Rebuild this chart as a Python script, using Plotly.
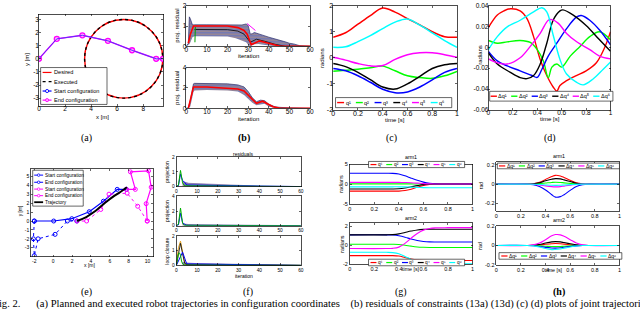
import plotly.graph_objects as go

W, H = 640, 316
SANS = "Liberation Sans, Arial, sans-serif"
SERIF = "Liberation Serif, Times New Roman, serif"
RED, GREEN, BLUE, BLACK, MAGENTA, CYAN = "#ff0000", "#00ff00", "#0000ff", "#000000", "#ff00ff", "#00ffff"
Q_COLORS = [RED, GREEN, BLUE, BLACK, MAGENTA, CYAN]

# ======================= DATA =======================
# (a) planar manipulator
a_circle_cx, a_circle_cy, a_circle_r = 6.5, 0.0, 3.0
a_arm_x = [0, 1.37, 3.33, 5.29, 7.14, 8.99, 9.51]
a_arm_y = [0, 1.52, 1.79, 1.37, 0.65, 0.0, 0.0]

# (b) projection residuals
b1_band_x = [0, 1, 1.5, 2, 3, 4, 10, 20, 24, 27, 29, 30, 31, 32, 33, 35, 37, 40, 42, 45, 48, 50, 52, 55, 60]
b1_band_hi = [0, 0.15, 1.45, 1.35, 1.05, 1.06, 1.06, 1.05, 1.02, 1.05, 1.1, 1.02, 0.6, 0.62, 0.68, 0.6, 0.55, 0.45, 0.4, 0.32, 0.22, 0.15, 0.12, 0.03, 0]
b1_band_lo = [0, 0.05, 0.1, 0.2, 0.45, 0.5, 0.5, 0.48, 0.4, 0.3, 0.2, 0.08, 0.0, 0.05, 0.1, 0.12, 0.08, 0.04, 0.02, 0, 0, 0, 0, 0, 0]
b1_black_x = [4, 10, 20, 25, 28, 31, 34, 38, 43, 48, 60]
b1_black_y = [0.83, 0.83, 0.82, 0.75, 0.6, 0.2, 0.35, 0.25, 0.1, 0.0, 0.0]
b1_red_x = [1, 2, 3.5, 10, 20, 25, 28, 29.5, 30.5, 31.5, 33, 35.5, 38.5, 42, 45, 60]
b1_red_y = [0.15, 0.6, 1.0, 1.0, 1.0, 0.92, 0.78, 0.6, 0.32, 0.08, 0.15, 0.27, 0.19, 0.08, 0.02, 0]
b1_green_x = [4.2, 4.4]
b1_green_y = [0.2, 0.96]
b1_mag_x = [29.5, 31, 33.5]
b1_mag_y = [1.12, 1.0, 0.78]

b2_band_x = [0, 1, 2, 3, 3.5, 4, 10, 20, 25, 28, 30, 32, 34, 36, 38, 40, 43, 45, 50, 55, 60]
b2_band_hi = [0, 0.05, 0.8, 2.2, 2.4, 2.45, 2.45, 2.4, 2.3, 2.1, 1.65, 1.05, 0.65, 0.8, 0.75, 0.4, 0.15, 0.1, 0.05, 0, 0]
b2_band_lo = [0, 0, 0.2, 1.2, 1.6, 1.75, 1.8, 1.75, 1.65, 1.3, 0.9, 0.55, 0.3, 0.4, 0.45, 0.15, 0.05, 0, 0, 0, 0]
b2_red_x = [1, 2, 3.5, 10, 20, 25, 28, 30, 32, 34, 37, 39, 42, 45, 60]
b2_red_y = [0, 0.9, 2.1, 2.1, 2.0, 1.9, 1.7, 1.3, 0.9, 0.5, 0.7, 0.5, 0.15, 0.02, 0]

# (c) joint trajectories q1..q6
c_t = [0, 0.1, 0.2, 0.3, 0.4, 0.5, 0.6, 0.7, 0.8, 0.9, 1.0]
c_q1 = [0.79, 0.96, 1.29, 1.62, 1.91, 1.75, 1.5, 1.26, 1.0, 0.81, 0.79]
c_q2 = [-0.52, -0.48, -0.44, -0.38, -0.32, -0.5, -0.69, -0.76, -0.79, -0.69, -0.52]
c_q3 = [-0.41, -0.5, -0.69, -0.94, -1.21, -1.34, -1.31, -1.12, -0.85, -0.56, -0.41]
c_q4 = [-0.22, -0.34, -0.56, -0.84, -1.12, -1.2, -1.0, -0.71, -0.41, -0.27, -0.22]
c_q5 = [0.02, -0.09, -0.22, -0.31, -0.3, -0.06, 0.12, 0.19, 0.19, 0.12, 0.02]
c_q6 = [0.4, 0.42, 0.62, 0.85, 1.12, 1.37, 1.49, 1.25, 0.96, 0.66, 0.4]

# (d) joint deviations dq1..dq6
d_dq1_t = [0, 0.073, 0.127, 0.18, 0.26, 0.316, 0.37, 0.424, 0.478, 0.53, 0.56, 0.586, 0.64, 0.72, 0.8, 0.884, 0.95, 1.0]
d_dq1 = [0.019, 0.031, 0.035, 0.037, 0.035, 0.0275, 0.0103, -0.0116, -0.027, -0.038, -0.042, -0.0366, -0.032, -0.027, -0.0225, -0.0147, -0.0006, 0.015]
d_dq2_t = [0, 0.073, 0.154, 0.26, 0.343, 0.4, 0.45, 0.49, 0.52, 0.56, 0.6, 0.67, 0.75, 0.83, 0.91, 1.0]
d_dq2 = [0.0066, 0.004, 0.0053, 0.0066, 0.0047, -0.0022, -0.013, -0.029, -0.019, -0.016, -0.019, -0.0084, 0.0009, 0.0103, 0.015, 0.0072]
d_dq3_t = [0, 0.073, 0.154, 0.26, 0.357, 0.4, 0.438, 0.49, 0.56, 0.64, 0.72, 0.76, 0.83, 0.91, 1.0]
d_dq3 = [-0.0038, -0.013, -0.0178, -0.0225, -0.027, -0.0288, -0.021, -0.0084, 0.004, 0.018, 0.029, 0.0306, 0.026, 0.0166, 0.0025]
d_dq4_t = [0, 0.073, 0.18, 0.26, 0.316, 0.37, 0.424, 0.478, 0.53, 0.586, 0.61, 0.695, 0.8, 0.91, 1.0]
d_dq4 = [-0.0053, -0.016, -0.024, -0.029, -0.03, -0.027, -0.016, 0.004, 0.026, 0.035, 0.036, 0.031, 0.021, 0.0072, -0.0038]
d_dq5_t = [0, 0.073, 0.154, 0.26, 0.343, 0.424, 0.49, 0.52, 0.573, 0.64, 0.72, 0.83, 0.91, 1.0]
d_dq5 = [-0.011, -0.0147, -0.016, -0.01, 0.0009, 0.0134, 0.026, 0.0266, 0.023, 0.0134, 0.0056, -0.0022, -0.0084, -0.011]
d_dq6_t = [0, 0.073, 0.154, 0.26, 0.37, 0.438, 0.478, 0.53, 0.586, 0.64, 0.72, 0.776, 0.857, 0.94, 1.0]
d_dq6 = [-0.0022, 0.0103, 0.0197, 0.026, 0.034, 0.038, 0.034, 0.0119, -0.0116, -0.0256, -0.0334, -0.036, -0.0303, -0.021, -0.014]

# (e) dual-arm configurations
e_blue_start_x = [-2.0, -2.1, -2.0, -1.6, 0.2, 1.5, 2.5]
e_blue_start_y = [0.0, -2.0, -3.9, -2.0, -1.5, 0.0, 0.0]
e_blue_end_x = [-2.0, 0.05, 1.97, 3.82, 5.32, 6.78, 7.75]
e_blue_end_y = [0.0, 0.0, 0.26, 1.05, 2.23, 3.56, 3.56]
e_mag_start_x = [9.96, 8.95, 7.83, 5.91, 5.04, 3.54, 2.53]
e_mag_start_y = [0.0, 1.66, 3.13, 3.02, 1.3, 0.0, 0.0]
e_mag_end_x = [9.96, 9.85, 10.38, 10.1, 8.18, 8.7, 7.75]
e_mag_end_y = [0.0, 1.95, 3.81, 5.64, 5.53, 3.56, 3.56]
e_traj_x = [2.53, 3.5, 4.5, 5.5, 6.5, 7.3, 7.8]
e_traj_y = [0.0, 0.45, 1.15, 2.05, 2.85, 3.4, 3.8]

# (f) residuals
f_tail_x = [3, 4, 6, 10, 20, 30, 35, 38, 40, 60]
f1_tail_hi = [0.3, 0.3, 0.22, 0.2, 0.17, 0.12, 0.08, 0.04, 0.01, 0]
f2_tail_hi = [0.25, 0.2, 0.15, 0.12, 0.1, 0.08, 0.05, 0.03, 0.01, 0]
f3_tail_hi = [0.2, 0.2, 0.15, 0.12, 0.1, 0.08, 0.06, 0.03, 0.01, 0]
f_tail_lo = [0, 0, 0, 0, 0, 0, 0, 0, 0, 0]
f1_green_x, f1_green_y = [0, 1, 2, 3, 4, 60], [0, 0.1, 1.1, 0.25, 0.05, 0]
f1_blue_x, f1_blue_y = [0, 1, 2, 3, 4, 5, 60], [0, 0.05, 0.85, 0.4, 0.3, 0.1, 0]
f2_green_x, f2_green_y = [0, 1, 2, 3, 4, 60], [0, 0.2, 2.4, 0.3, 0.05, 0]
f2_blue_x, f2_blue_y = [0, 1, 2, 3, 4, 5, 60], [0, 0.1, 1.7, 0.4, 0.2, 0.05, 0]
f3_orange_x, f3_orange_y = [0, 1, 2, 3, 4, 5, 60], [0, 1.2, 1.65, 1.0, 0.2, 0.05, 0]
f3_black_x, f3_black_y = [0, 1, 2, 3, 4, 5, 60], [0, 0.9, 1.5, 0.8, 0.15, 0.05, 0]
f3_green_x, f3_green_y = [0, 1, 1.5, 2, 2.5, 3, 4, 60], [0, 0.8, 0.85, 0.7, 0.3, 0.1, 0.02, 0]
f3_blue_x, f3_blue_y = [0, 1, 2, 3, 4, 5, 60], [0, 0.3, 0.6, 0.9, 0.5, 0.1, 0]

# (g) dual-arm joint trajectories
g_t = [0, 0.3, 0.35, 0.4, 0.45, 0.5, 0.55, 0.6, 0.65, 0.7, 0.8, 1.0]
g1_q = [
    [-1.8, -1.8, -1.8, -1.78, -1.65, -1.3, -0.8, -0.35, -0.1, -0.02, 0, 0],
    [0.05, 0.05, 0.05, 0.05, 0.05, 0.04, 0.03, 0.02, 0.01, 0, 0, 0],
    [2.75, 2.75, 2.72, 2.55, 2.1, 1.5, 0.95, 0.5, 0.2, 0.05, 0.0, 0.0],
    [-1.25, -1.25, -1.25, -1.2, -1.0, -0.7, -0.4, -0.15, -0.05, 0, 0, 0],
    [0.42, 0.42, 0.42, 0.42, 0.4, 0.35, 0.25, 0.12, 0.05, 0.02, 0.0, 0.0],
    [-0.7, -0.7, -0.7, -0.7, -0.72, -0.78, -0.85, -0.9, -0.92, -0.92, -0.92, -0.92],
]
g2_q = [
    [-1.1, -1.1, -1.1, -1.15, -1.3, -1.45, -1.55, -1.6, -1.62, -1.62, -1.62, -1.62],
    [0.1, 0.1, 0.1, 0.08, 0.0, -0.1, -0.18, -0.22, -0.24, -0.24, -0.24, -0.24],
    [1.1, 1.1, 1.08, 1.0, 0.85, 0.65, 0.5, 0.4, 0.35, 0.34, 0.34, 0.34],
    [1.1, 1.1, 1.12, 1.2, 1.35, 1.5, 1.62, 1.68, 1.7, 1.7, 1.7, 1.7],
    [-0.35, -0.35, -0.33, -0.2, 0.2, 0.75, 1.25, 1.6, 1.78, 1.84, 1.86, 1.86],
    [-0.75, -0.75, -0.78, -0.9, -1.2, -1.5, -1.75, -1.88, -1.95, -1.97, -1.98, -1.98],
]

# (h) dual-arm joint deviations
h_t = [0, 0.25, 0.3, 0.35, 0.4, 0.45, 0.48, 0.52, 0.55, 0.6, 0.65, 0.7, 0.75, 1]
h1_dq = [
    [0, 0, 0.005, 0.02, 0.05, 0.08, 0.092, 0.085, 0.07, 0.04, 0.015, 0.004, 0, 0],
    [0, 0, 0.002, 0.006, 0.012, 0.018, 0.02, 0.018, 0.014, 0.008, 0.003, 0, 0, 0],
    [0, 0, -0.006, -0.025, -0.06, -0.11, -0.135, -0.13, -0.11, -0.065, -0.025, -0.006, 0, 0],
    [0, 0, 0.004, 0.015, 0.035, 0.052, 0.058, 0.055, 0.045, 0.028, 0.01, 0.003, 0, 0],
    [0, 0, -0.002, -0.008, -0.018, -0.026, -0.028, -0.026, -0.02, -0.01, -0.004, 0, 0, 0],
    [0, 0, -0.001, -0.004, -0.008, -0.012, -0.013, -0.012, -0.009, -0.005, -0.002, 0, 0, 0],
]
h2_dq = [
    [0, 0, 0.001, 0.005, 0.012, 0.018, 0.02, 0.018, 0.014, 0.008, 0.003, 0, 0, 0],
    [0, 0, -0.001, -0.004, -0.008, -0.011, -0.012, -0.011, -0.008, -0.004, -0.001, 0, 0, 0],
    [0, 0, -0.003, -0.01, -0.02, -0.026, -0.027, -0.024, -0.018, -0.01, -0.004, 0, 0, 0],
    [0, 0, 0.003, 0.01, 0.025, 0.037, 0.04, 0.037, 0.03, 0.018, 0.007, 0.002, 0, 0],
    [0, 0, 0.006, 0.025, 0.06, 0.1, 0.113, 0.11, 0.095, 0.06, 0.025, 0.006, 0, 0],
    [0, 0, -0.004, -0.015, -0.032, -0.043, -0.042, -0.036, -0.027, -0.015, -0.005, 0, 0, 0],
]

# tick values and labels
ticks_iter = [0, 10, 20, 30, 40, 50, 60]
ticks_time = [0, 0.2, 0.4, 0.6, 0.8, 1]
q_labels = ["q¹", "q²", "q³", "q⁴", "q⁵", "q⁶"]
dq_labels = ["Δq¹", "Δq²", "Δq³", "Δq⁴", "Δq⁵", "Δq⁶"]
fig_caption = ("Fig. 2.\u00a0\u00a0\u00a0\u00a0\u00a0 (a) Planned and executed robot trajectories in configuration coordinates"
               "\u00a0\u00a0\u00a0 (b) residuals of constraints (13a) (13d) (c) (d) plots of joint trajectories")

# ======================= LAYOUT HELPERS =======================
layout = dict(width=W, height=H, margin=dict(l=0, r=0, t=0, b=0),
              paper_bgcolor="white", plot_bgcolor="white", showlegend=False)
shapes, annots, traces = [], [], []


def PX(x):
    return x / W


def PY(y):
    return 1 - y / H


def fmt(v):
    return "%g" % v


def make_axes(n, xpx, ypx, xr, yr, xt, yt, fs=6, sx=0, sy=0):
    s = "" if n == 1 else str(n)
    common = dict(showline=True, mirror="ticks", linecolor="black", linewidth=0.7,
                  ticks="inside", ticklen=2, tickwidth=0.6, tickcolor="black",
                  showgrid=False, zeroline=False, fixedrange=True,
                  tickfont=dict(size=fs, family=SANS, color="black"))
    xa = dict(domain=[xpx[0] / W, xpx[1] / W], range=xr, tickvals=xt,
              ticktext=[fmt(v) for v in xt], anchor="y" + s, **common)
    ya = dict(domain=[1 - ypx[1] / H, 1 - ypx[0] / H], range=yr, tickvals=yt,
              ticktext=[fmt(v) for v in yt], anchor="x" + s, **common)
    if sx:
        xa["ticklabelstandoff"] = sx
    if sy:
        ya["ticklabelstandoff"] = sy
    layout["xaxis" + s] = xa
    layout["yaxis" + s] = ya
    return ("x" + s, "y" + s)


def line(ax, x, y, color, width=1.2, dash="solid", shape="linear", marker=None):
    tr = go.Scatter(x=x, y=y, xaxis=ax[0], yaxis=ax[1], mode="lines", hoverinfo="skip",
                    line=dict(color=color, width=width, dash=dash, shape=shape))
    if marker is not None:
        tr.update(mode="lines+markers", marker=marker)
    traces.append(tr)


def band(ax, x, lo, hi, edge="#2b2f6e"):
    traces.append(go.Scatter(x=x, y=lo, xaxis=ax[0], yaxis=ax[1], mode="lines",
                             line=dict(color="rgba(0,0,0,0)", width=0), hoverinfo="skip"))
    traces.append(go.Scatter(x=x, y=hi, xaxis=ax[0], yaxis=ax[1], mode="lines", fill="tonexty",
                             line=dict(color=edge, width=0.7), hoverinfo="skip",
                             fillcolor="#7480b8",
                             fillpattern=dict(shape="-", bgcolor="#6676c0", fgcolor="#e8a050",
                                              size=3, solidity=0.5)))


def text(x, y, s, size, angle=0, family=SANS, xa="center", ya="middle", weight="normal"):
    annots.append(dict(xref="paper", yref="paper", x=PX(x), y=PY(y), text=s, showarrow=False,
                       textangle=angle, xanchor=xa, yanchor=ya, borderpad=0,
                       font=dict(family=family, size=size, color="black", weight=weight)))


def rect(x0, y0, x1, y1, lw=0.6):
    shapes.append(dict(type="rect", xref="paper", yref="paper", x0=PX(x0), x1=PX(x1),
                       y0=PY(y1), y1=PY(y0), line=dict(color="black", width=lw),
                       fillcolor="white", layer="above"))


def seg(x0, x1, y, color, width=1.2, dash="solid"):
    shapes.append(dict(type="line", xref="paper", yref="paper", x0=PX(x0), x1=PX(x1),
                       y0=PY(y), y1=PY(y), line=dict(color=color, width=width, dash=dash),
                       layer="above"))


def dot(cx, cy, r, color, fill="white", lw=0.8):
    shapes.append(dict(type="circle", xref="paper", yref="paper", x0=PX(cx - r), x1=PX(cx + r),
                       y0=PY(cy + r), y1=PY(cy - r), line=dict(color=color, width=lw),
                       fillcolor=fill, layer="above"))


def hlegend(box, x_start, step, yc, labels, colors, slen, fs, lw=1.2):
    rect(*box)
    for i, (lab, col) in enumerate(zip(labels, colors)):
        x0 = x_start + step * i
        seg(x0, x0 + slen, yc, col, lw)
        text(x0 + slen + 0.5, yc, lab, fs, xa="left")


# ======================= AXES =======================
axA = make_axes(1, (37.3, 163), (10.7, 104.3), [0, 9.55], [-3.6, 3.38], [0, 2, 4, 6, 8], [-3, -2, -1, 0, 1, 2, 3], 6.5, -3, -2)
axB1 = make_axes(2, (186, 311), (1.7, 43.3), [0, 60], [0, 2], ticks_iter, [0, 1, 2], 6.5, -3, -2)
axB2 = make_axes(3, (186, 311), (65, 106.7), [0, 60], [0, 4], ticks_iter, [0, 2, 4], 6.5, -3, -2)
axC = make_axes(4, (334.3, 459.3), (1.7, 108.3), [0, 1], [-2, 2], ticks_time, [-2, -1, 0, 1, 2], 7, -3, -2)
axD = make_axes(5, (491, 614.3), (1.7, 108.3), [0, 1], [-0.06, 0.04], ticks_time, [-0.06, -0.04, -0.02, 0, 0.02, 0.04], 6.5, -3, -2)
axE = make_axes(6, (29.3, 152.7), (168.3, 258.3), [-2.35, 10.6], [-4, 5.9], [-2, 0, 2, 4, 6, 8, 10], [-3, -2, -1, 0, 1, 2, 3, 4, 5], 5)
axF1 = make_axes(7, (176, 301.7), (156.7, 186.7), [0, 60], [0, 2], ticks_iter, [0, 1, 2], 4.8)
axF2 = make_axes(8, (176, 301.7), (196.7, 226.7), [0, 60], [0, 4], ticks_iter, [0, 2, 4], 4.8)
axF3 = make_axes(9, (176, 301.7), (237.3, 267.3), [0, 60], [0, 2], ticks_iter, [0, 1, 2], 4.8)
axG1 = make_axes(10, (351, 475), (164, 204.3), [0, 1], [-5, 5], ticks_time, [-5, 0, 5], 5.5)
axG2 = make_axes(11, (351, 475), (224, 266), [0, 1], [-2, 2.35], ticks_time, [-2, 0, 2], 5.5)
axH1 = make_axes(12, (499, 623.3), (161.7, 211.7), [0, 1], [-0.28, 0.23], ticks_time, [-0.2, 0, 0.2], 5.5)
axH2 = make_axes(13, (499, 623.3), (226.7, 266.7), [0, 1], [-0.2, 0.205], ticks_time, [-0.2, 0, 0.2], 5.5)

# ======================= (a) =======================
for col, dash in ((RED, "solid"), (BLACK, "dot")):
    shapes.append(dict(type="circle", xref="x", yref="y", layer="below",
                       x0=a_circle_cx - a_circle_r, x1=a_circle_cx + a_circle_r,
                       y0=a_circle_cy - a_circle_r, y1=a_circle_cy + a_circle_r,
                       line=dict(color=col, width=1.4, dash=dash)))
line(axA, a_arm_x, a_arm_y, MAGENTA, 1.4,
     marker=dict(symbol="circle", size=5, color="#ffa8ff", line=dict(color=MAGENTA, width=1.3)))
line(axA, a_arm_x, a_arm_y, "#5a30ff", 1.0)
rect(39, 65, 106, 102.7)
rows_a = [(70, "Desired", RED, "solid", False), (79.3, "Executed", BLACK, "dot", False),
          (89, "Start configuration", BLUE, "solid", True), (98.3, "End configuration", MAGENTA, "solid", True)]
for yc, lab, col, dash, mk in rows_a:
    seg(41, 50, yc, col, 1.2, dash)
    if mk:
        dot(45.5, yc, 1.6, col, "#ffa8ff" if col == MAGENTA else "white", 0.9)
    text(51.2, yc, lab, 5.6, xa="left")
text(101.7, 115.7, "x [m]", 6)
text(24.5, 57, "y [m]", 6, angle=-90)

# ======================= (b) =======================
band(axB1, b1_band_x, b1_band_lo, b1_band_hi)
line(axB1, b1_black_x, b1_black_y, BLACK, 0.8)
line(axB1, b1_green_x, b1_green_y, "#00a000", 1.0)
line(axB1, b1_mag_x, b1_mag_y, MAGENTA, 1.0)
line(axB1, b1_red_x, b1_red_y, RED, 1.6)
band(axB2, b2_band_x, b2_band_lo, b2_band_hi)
line(axB2, b2_red_x, b2_red_y, RED, 1.6)
text(176.5, 22.5, "proj. residual", 6, angle=-90)
text(176.5, 86, "proj. residual", 6, angle=-90)
text(248.5, 53.5, "iteration", 6)
text(248.5, 117.3, "iteration", 6)

# ======================= (c) =======================
for qv, col in zip([c_q1, c_q2, c_q3, c_q4, c_q5, c_q6], Q_COLORS):
    line(axC, c_t, qv, col, 1.5, shape="spline")
hlegend((336.7, 95.7, 454, 106), 338.3, 18.9, 100.8, q_labels, Q_COLORS, 7, 5.5, 1.4)
text(323.3, 55, "radians", 6, angle=-90)
text(396.8, 118.5, "time [s]", 6)

# ======================= (d) =======================
for tv, dv, col in zip([d_dq1_t, d_dq2_t, d_dq3_t, d_dq4_t, d_dq5_t, d_dq6_t],
                       [d_dq1, d_dq2, d_dq3, d_dq4, d_dq5, d_dq6], Q_COLORS):
    line(axD, tv, dv, col, 1.4, shape="spline")
hlegend((492.3, 89.3, 616.7, 99.3), 493.3, 20.7, 94.3, dq_labels, Q_COLORS, 6.3, 5.5, 1.4)
text(482.5, 52, "radians", 6, angle=-90)
text(552.7, 117.5, "time [s]", 6)

# ======================= (e) =======================
mk_open = lambda c: dict(symbol="circle-open", size=4, color=c, line=dict(width=1.0, color=c))
line(axE, e_blue_start_x, e_blue_start_y, BLUE, 1.0, dash="dot", marker=mk_open(BLUE))
line(axE, e_blue_end_x, e_blue_end_y, BLUE, 1.2, marker=mk_open(BLUE))
line(axE, e_mag_start_x, e_mag_start_y, MAGENTA, 1.0, dash="dot", marker=mk_open(MAGENTA))
line(axE, e_mag_end_x, e_mag_end_y, MAGENTA, 1.2, marker=mk_open(MAGENTA))
line(axE, e_traj_x, e_traj_y, BLACK, 2.0, shape="spline")
rect(31, 170, 82, 206.7)
rows_e = [(175, "Start configuration", BLUE, "dot", True), (182.3, "End configuration", BLUE, "solid", True),
          (189.3, "Start configuration", MAGENTA, "dot", True), (196, "End configuration", MAGENTA, "solid", True),
          (202.7, "Trajectory", BLACK, "solid", False)]
for yc, lab, col, dash, mk in rows_e:
    seg(32.5, 41.5, yc, col, 1.8 if not mk else 1.0, dash)
    if mk:
        dot(37, yc, 1.3, col, "white", 0.8)
    text(42.5, yc, lab, 4.8, xa="left")
text(88.3, 266.5, "x [m]", 5)
text(18.5, 211.7, "y [m]", 5, angle=-90)

# ======================= (f) =======================
band(axF1, f_tail_x, f_tail_lo, f1_tail_hi, edge="#7a6aa0")
line(axF1, f1_blue_x, f1_blue_y, BLUE, 1.0)
line(axF1, f1_green_x, f1_green_y, "#00b000", 1.0)
band(axF2, f_tail_x, f_tail_lo, f2_tail_hi, edge="#7a6aa0")
line(axF2, f2_blue_x, f2_blue_y, BLUE, 1.0)
line(axF2, f2_green_x, f2_green_y, "#00b000", 1.0)
band(axF3, f_tail_x, f_tail_lo, f3_tail_hi, edge="#7a6aa0")
line(axF3, f3_orange_x, f3_orange_y, "#e0a020", 1.0)
line(axF3, f3_black_x, f3_black_y, BLACK, 0.8)
line(axF3, f3_blue_x, f3_blue_y, BLUE, 1.0)
line(axF3, f3_green_x, f3_green_y, "#00b000", 1.0)
text(244, 153, "residuals", 5)
text(166.5, 171.7, "projection", 5, angle=-90)
text(166.5, 211.7, "projection", 5, angle=-90)
text(166.5, 252.3, "loop closure", 5, angle=-90)
text(244, 277.8, "iteration", 5)

# ======================= (g) =======================
for qv, col in zip(g1_q, Q_COLORS):
    line(axG1, g_t, qv, col, 1.1, shape="spline")
for qv, col in zip(g2_q, Q_COLORS):
    line(axG2, g_t, qv, col, 1.1, shape="spline")
hlegend((370, 161, 467, 167.3), 372, 15.9, 164.2, q_labels, Q_COLORS, 6, 4.8, 1.2)
hlegend((370, 261, 467, 267.7), 372, 15.9, 264.4, q_labels, Q_COLORS, 6, 4.8, 1.2)
text(412.7, 156.3, "arm1", 5.3)
text(412.7, 218.5, "arm2", 5.3)
text(342.5, 183.5, "radians", 5.3, angle=-90)
text(342.5, 245, "radians", 5.3, angle=-90)
text(412.7, 271.5, "time [s]", 5.3)

# ======================= (h) =======================
for dv, col in zip(h1_dq, Q_COLORS):
    line(axH1, h_t, dv, col, 1.1, shape="spline")
for dv, col in zip(h2_dq, Q_COLORS):
    line(axH2, h_t, dv, col, 1.1, shape="spline")
hlegend((500, 162.7, 623.3, 168.5), 501.7, 20, 165.6, dq_labels, Q_COLORS, 6.3, 5, 1.2)
hlegend((501.7, 254.3, 625.7, 261), 504, 20, 257.7, dq_labels, Q_COLORS, 6.3, 5, 1.2)
text(562.7, 155.5, "arm1", 5.3)
text(562.7, 220.7, "arm2", 5.3)
text(483, 185, "rad", 5.3, angle=-90)
text(483, 246.7, "rad", 5.3, angle=-90)
text(557, 271.8, "time [s]", 5.3)

# ======================= captions =======================
for (cx, cy, lab, wt) in [(85, 137, "(a)", "normal"), (244, 137, "(b)", "bold"), (393, 137, "(c)", "normal"),
                          (553, 137, "(d)", "normal"), (85, 294.5, "(e)", "normal"), (248, 295, "(f)", "normal"),
                          (402.7, 294.5, "(g)", "normal"), (562, 294.5, "(h)", "bold")]:
    text(cx, cy, lab, 10, family=SERIF, weight=wt)
text(-10, 306.5, fig_caption, 10.6, family=SERIF, xa="left")

layout["shapes"] = shapes
layout["annotations"] = annots
fig = go.Figure(data=traces, layout=layout)
fig.write_html("out.html", config={"displayModeBar": False, "staticPlot": True},
               post_script="document.body.style.margin='0px';document.body.style.overflow='hidden';")
